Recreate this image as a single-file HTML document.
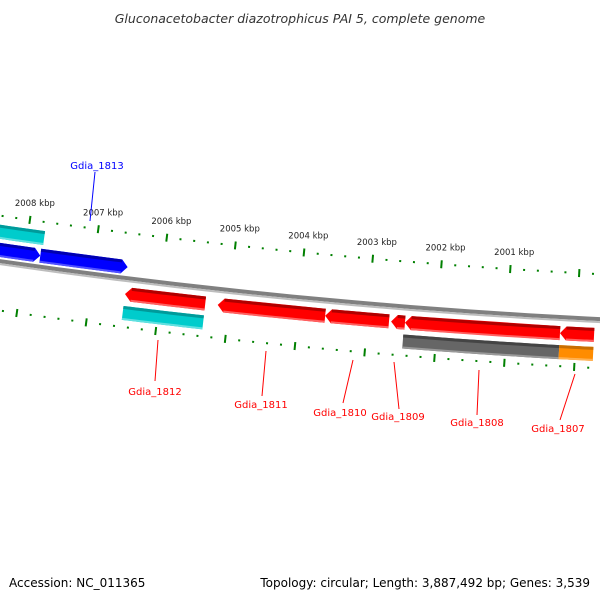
<!DOCTYPE html>
<html><head><meta charset="utf-8"><style>
html,body{margin:0;padding:0;background:#fff;}
svg{display:block;font-family:"DejaVu Sans","Liberation Sans",sans-serif;}
</style></head><body>
<svg id="map" width="600" height="600" viewBox="0 0 600 600">
<text x="300" y="23" text-anchor="middle" font-size="12.5" font-style="italic" fill="#333">Gluconacetobacter diazotrophicus PAI 5, complete genome</text>
<text x="9" y="587" font-size="12" fill="#000">Accession: NC_011365</text>
<text x="590" y="587" font-size="12" fill="#000" text-anchor="end">Topology: circular; Length: 3,887,492 bp; Genes: 3,539</text>
<g id="layer"></g>
</svg>
<script>
// data arrays
const majorTicks = [2008, 2007, 2006, 2005, 2004, 2003, 2002, 2001, 2000];
const tickLabels = ["2008 kbp","2007 kbp","2006 kbp","2005 kbp","2004 kbp","2003 kbp","2002 kbp","2001 kbp"];
const geneNames  = ["Gdia_1813a","Gdia_1813","Gdia_1812","Gdia_1811","Gdia_1810","Gdia_1809","Gdia_1808","Gdia_1807"];
const geneStart  = [2008.6, 2007.78, 2005.34, 2003.61, 2002.69, 2002.46, 2000.23, 1999.74];
const geneEnd    = [2007.78, 2006.51, 2006.50, 2005.16, 2003.61, 2002.66, 2002.46, 2000.23];
const geneStrand = [1, 1, -1, -1, -1, -1, -1, -1];
const featStart  = [2008.7, 2005.34, 2000.23, 1999.74];
const featEnd    = [2007.76, 2006.50, 2002.47, 2000.23];
const featStrand = [1, -1, -1, -1];
const featKind   = ["cyan","cyan","gray","orange"];

const NS="http://www.w3.org/2000/svg";
const layer=document.getElementById('layer');
const CX=916, CY=-6072, PSI0=0.09647, K=0.01086;
function pos(kbp,r){const p=PSI0+(kbp-2004)*K;return [CX-r*Math.sin(p), CY+r*Math.cos(p)];}
function mk(tag,attrs){const e=document.createElementNS(NS,tag);for(const k in attrs)e.setAttribute(k,attrs[k]);layer.appendChild(e);return e;}
function pts(a){return a.map(p=>p[0].toFixed(2)+","+p[1].toFixed(2)).join(" ");}
function band(a,b,r1,r2){const n=12,top=[],bot=[];for(let i=0;i<=n;i++){const k=a+(b-a)*i/n;top.push(pos(k,r1));bot.unshift(pos(k,r2));}return top.concat(bot);}

// backbone
let e=mk('polygon',{points:pts(band(1999.0,2009.2,6397,6401)),fill:'#808080'});


e=mk('polygon',{points:pts(band(1999.0,2009.2,6401,6403)),fill:'#bdbdbd'});



// ticks
const R_UP=6354, R_LO=6448;
for(let t=1999.4;t<=2009.01;t+=0.2){
  const kb=Math.round(t*10)/10;
  const major=majorTicks.includes(Math.round(kb)) && Math.abs(kb-Math.round(kb))<0.01;
  [R_UP,R_LO].forEach((R,idx)=>{
    const a=pos(kb,R-(major?4:1)), b=pos(kb,R+(major?4:1));
    const l=mk('line',{x1:a[0],y1:a[1],x2:b[0],y2:b[1],stroke:'#008000','stroke-width':2});
    
    
  });
}
tickLabels.forEach((s,i)=>{
  const kb=parseInt(s);const p=pos(kb,R_UP-14);
  const t=mk('text',{x:p[0]+3,y:p[1],'text-anchor':'middle','font-size':8.5,fill:'#222'});
  t.textContent=s;
  
  
});

// feature bars
const featColors={cyan:['#00cccc','#009a9a','#60e0e0'],gray:['#666666','#444','#999'],orange:['#ff8c00','#c86e00','#ffb050']};
featStart.forEach((s,i)=>{
  const rc=featStrand[i]>0?6370:6434, c=featColors[featKind[i]];
  let p=mk('polygon',{points:pts(band(s,featEnd[i],rc-7,rc+7)),fill:c[0]});
  
  
  p=mk('polygon',{points:pts(band(s,featEnd[i],rc-7,rc-4)),fill:c[1]});
  
  
  p=mk('polygon',{points:pts(band(s,featEnd[i],rc+5,rc+7)),fill:c[2]});
  
  
});

// gene arrows
geneStart.forEach((s,i)=>{
  const lo=Math.min(s,geneEnd[i]), hi=Math.max(s,geneEnd[i]);
  const fwd=geneStrand[i]>0, rc=fwd?6388:6415, h=0.09;
  const col=fwd?['#0000ff','#0000b0','#5050ff']:['#ff0000','#b00000','#ff6060'];
  let shape;
  if(fwd){
    shape=[pos(hi,rc-7),pos(lo+h,rc-7),pos(lo,rc),pos(lo+h,rc+7),pos(hi,rc+7)];
  } else {
    shape=[pos(lo,rc-7),pos(hi-h,rc-7),pos(hi,rc),pos(hi-h,rc+7),pos(lo,rc+7)];
  }
  let p=mk('polygon',{points:pts(shape),fill:col[0]});
  
  
  const a=fwd?lo+h:lo, b=fwd?hi:hi-h;
  p=mk('polygon',{points:pts(band(a,b,rc-7,rc-4)),fill:col[1]});
  
  
  p=mk('polygon',{points:pts(band(a,b,rc+5,rc+7)),fill:col[2]});
  
  
});

// labels
const labels=[["Gdia_1813",97,169,95,172,90,221,'#0000ff'],["Gdia_1812",155,395,158,340,155,381,'#ff0000'],
["Gdia_1811",261,408,266,351,262,396,'#ff0000'],["Gdia_1810",340,416,353,360,343,403,'#ff0000'],
["Gdia_1809",398,420,394,362,399,409,'#ff0000'],["Gdia_1808",477,426,479,370,477,415,'#ff0000'],
["Gdia_1807",558,432,575,374,560,420,'#ff0000']];
labels.forEach(l=>{
  const ln=mk('line',{x1:l[3],y1:l[4],x2:l[5],y2:l[6],stroke:l[7],'stroke-width':1});
  
  
  const t=mk('text',{x:l[1],y:l[2],'text-anchor':'middle','font-size':10,fill:l[7]});
  t.textContent=l[0];
  
  
});
</script>
</body></html>
